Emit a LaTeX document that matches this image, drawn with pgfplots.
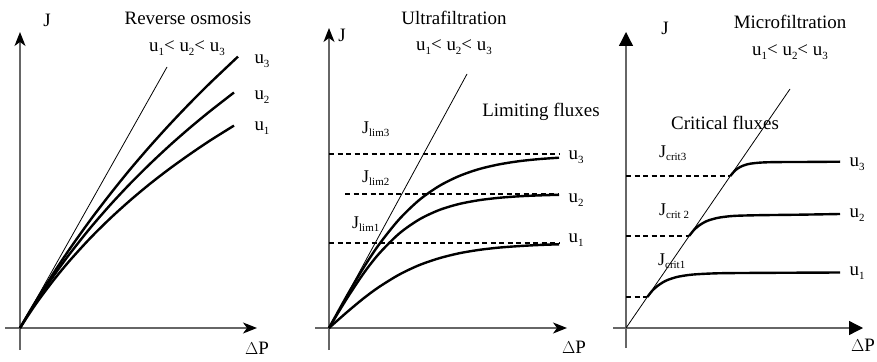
\documentclass[border=0pt]{standalone}
\usepackage{fontspec}
\setmainfont{Liberation Serif}
\usepackage{pgfplots}
\pgfplotsset{compat=1.18}
\usetikzlibrary{arrows.meta}
\newcommand{\sub}[1]{\raisebox{-0.45ex}{\fontsize{11}{11}\selectfont #1}}
\begin{document}
\begin{tikzpicture}[x=1bp,y=1bp]
\useasboundingbox (0,0) rectangle (877,361);
\pgfplotsset{
  panel/.style={axis lines=middle, ticks=none, scale only axis, clip=false, anchor=south west,
    axis line style={draw=black!60, line width=1.3bp}},
  stl/.style={
    every inner x axis line/.append style={-{Stealth[length=14bp,width=11bp,inset=4bp,color=black]}},
    every inner y axis line/.append style={-{Stealth[length=14bp,width=11bp,inset=4bp,color=black]}}},
  tri/.style={
    every inner x axis line/.append style={-{Triangle[length=14bp,width=14bp,color=black]}},
    every inner y axis line/.append style={-{Triangle[length=14bp,width=14bp,color=black]}}},
  thk/.style={black, line width=2.4bp, smooth, mark=none},
  thn/.style={black, line width=0.8bp, mark=none},
  dsh/.style={black, line width=1.1bp, dash pattern=on 5bp off 3.5bp, mark=none},
}
\tikzset{lab/.style={font=\fontsize{19}{22}\selectfont, inner sep=0pt},
  jl/.style={font=\fontsize{18}{22}\selectfont, inner sep=0pt, anchor=base west}}
% ---------------- Panel 1: Reverse osmosis
\begin{axis}[panel, stl, at={(5,11)}, width=252bp, height=318bp,
  xmin=-15, xmax=237, ymin=-22, ymax=296]
\addplot[thn] coordinates {(0,0) (147,261)};
\addplot[thk] coordinates {(0,0) (10,17.1) (20,33.6) (35,57.2) (50,79.5) (70,107.5) (90,133.7) (110,158.5) (130,181.8) (150,203.9) (170,224.9) (190,244.9) (218,271.4)};
\addplot[thk] coordinates {(0,0) (10,16.5) (20,32.1) (35,54.1) (50,74.5) (70,99.7) (90,122.8) (110,144.2) (130,164.1) (150,182.8) (170,200.3) (190,216.8) (214,235.5)};
\addplot[thk] coordinates {(0,0) (10,15.4) (20,29.8) (35,49.6) (50,67.7) (70,89.6) (90,109.4) (110,127.5) (130,144.2) (150,159.6) (170,173.9) (190,187.4) (214,202.4)};
\end{axis}
% ---------------- Panel 2: Ultrafiltration
\begin{axis}[panel, stl, at={(315,11)}, width=252bp, height=322bp,
  xmin=-14, xmax=238, ymin=-22, ymax=300]
\addplot[dsh] coordinates {(0,174) (230,174)};
\addplot[dsh] coordinates {(16,134) (230,134)};
\addplot[dsh] coordinates {(0,85) (230,85)};
\addplot[thn] coordinates {(0,0) (138,254)};
\addplot[thk] coordinates {(0,0) (10,18.1) (20,35.9) (35,61.0) (50,83.5) (70,108.5) (90,127.8) (110,141.9) (130,151.9) (150,158.9) (170,163.6) (190,166.8) (210,168.9) (230,170.3)};
\addplot[thk] coordinates {(0,0) (10,16.7) (20,32.8) (35,55.2) (50,74.3) (70,94.3) (90,108.4) (110,117.9) (130,124.0) (150,127.8) (170,130.2) (190,131.7) (210,132.6) (230,133.2)};
\addplot[thk] coordinates {(0,0) (10,8.9) (20,17.6) (35,30.0) (50,41.0) (70,53.3) (90,62.8) (110,69.7) (130,74.7) (150,78.1) (170,80.4) (190,81.9) (210,83.0) (230,83.7)};
\end{axis}
% ---------------- Panel 3: Microfiltration
\begin{axis}[panel, tri, at={(613,13)}, width=250bp, height=316bp,
  xmin=-13, xmax=237, ymin=-20, ymax=296]
\addplot[dsh] coordinates {(0,152) (104,152)};
\addplot[dsh] coordinates {(0,92) (63,92)};
\addplot[dsh] coordinates {(0,31) (21,31)};
\addplot[thn] coordinates {(0,0) (164,239)};
\addplot[thk] coordinates {(104.3,152) (109.3,157.7) (114.3,161.1) (119.3,163.1) (124.3,164.3) (134.3,165.4) (149.3,165.9) (174.3,166) (214,166.3)};
\addplot[thk] coordinates {(63.1,92) (68.1,98.2) (73.1,102.5) (78.1,105.6) (83.1,107.8) (93.1,110.4) (108.1,112.1) (133.1,112.8) (173.1,113.3) (214,114)};
\addplot[thk] coordinates {(21.3,31) (26.3,37.3) (31.3,41.9) (36.3,45.3) (41.3,47.9) (51.3,51.1) (66.3,53.4) (91.3,54.7) (131.3,55.1) (214,55.5)};
\end{axis}
% ---------------- Text
\node[lab] at (47,341) {J};
\node[lab] at (188,343) {Reverse osmosis};
\node[lab] at (187,313) {u\sub{1}< u\sub{2}< u\sub{3}};
\node[lab] at (262,300) {u\sub{3}};
\node[lab] at (262,264) {u\sub{2}};
\node[lab] at (262,233) {u\sub{1}};
\node[lab] at (257,13) {$\Delta$P};

\node[lab] at (342,326) {J};
\node[lab] at (454,343) {Ultrafiltration};
\node[lab] at (454,314) {u\sub{1}< u\sub{2}< u\sub{3}};
\node[lab] at (541,249) {Limiting fluxes};
\node[jl] at (362,228) {J\sub{lim3}};
\node[jl] at (362,179) {J\sub{lim2}};
\node[jl] at (352,133) {J\sub{lim1}};
\node[lab] at (576,204) {u\sub{3}};
\node[lab] at (576,161) {u\sub{2}};
\node[lab] at (576,121) {u\sub{1}};
\node[lab] at (574,14) {$\Delta$P};

\node[lab] at (665,333) {J};
\node[lab] at (790,339) {Microfiltration};
\node[lab] at (790,309) {u\sub{1}< u\sub{2}< u\sub{3}};
\node[lab] at (725,238) {Critical fluxes};
\node[jl] at (659,204) {J\sub{crit3}};
\node[jl] at (659,146) {J\sub{crit 2}};
\node[jl] at (658,96) {J\sub{crit1}};
\node[lab] at (857,197) {u\sub{3}};
\node[lab] at (857,146) {u\sub{2}};
\node[lab] at (857,88) {u\sub{1}};
\node[lab] at (863,16) {$\Delta$P};
\end{tikzpicture}
\end{document}
